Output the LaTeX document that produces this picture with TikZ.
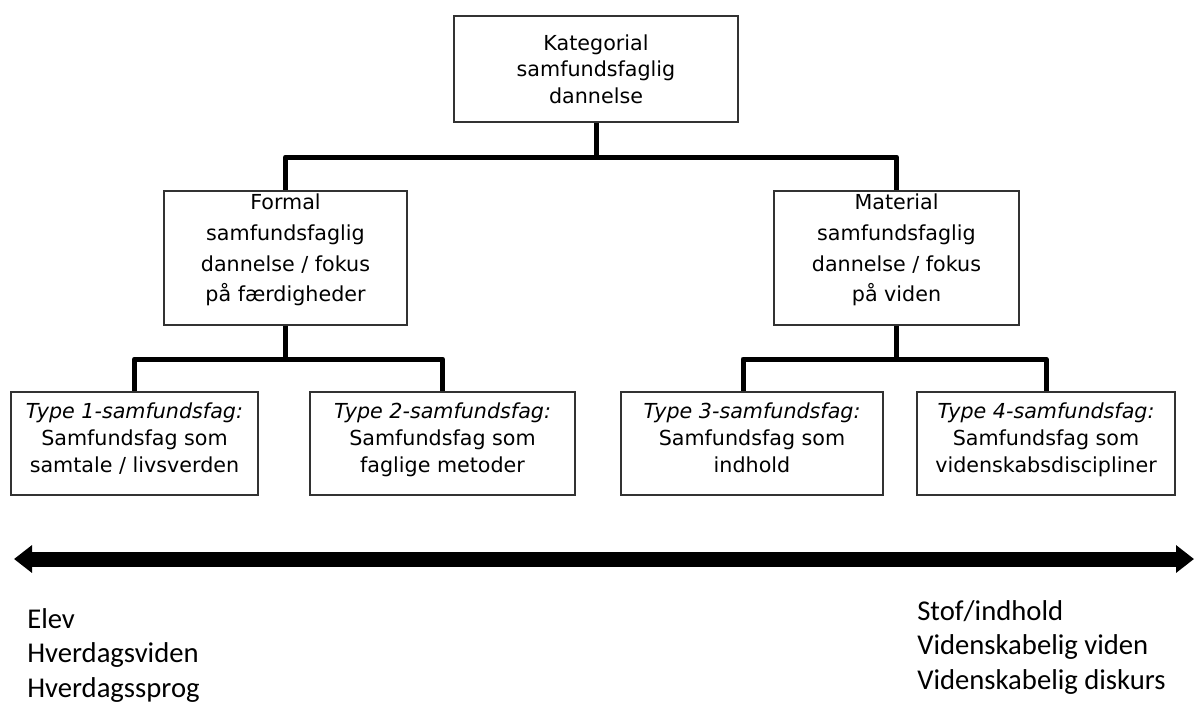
\documentclass[tikz,border=0pt]{standalone}
\usepackage{fontspec}
\setmainfont{DejaVu Sans}
\newfontfamily\notefont{Carlito}
\usetikzlibrary{arrows.meta,positioning}
\definecolor{frame}{RGB}{50,50,50}

\begin{document}
\begin{tikzpicture}[
  x=0.75pt, y=-0.75pt,
  box/.style={draw=frame, line width=1.2pt, align=center, inner sep=0pt, font=\fontsize{15.5}{20}\selectfont},
  midbox/.style={box, font=\fontsize{15.5}{23}\selectfont, minimum height=100.5pt, text depth=15pt},
  typebox/.style={box, minimum height=77.25pt, text depth=9pt},
  conn/.style={line width=3.75pt, line join=round},
  axis/.style={{Triangle[length=13.5pt,width=20pt]}-{Triangle[length=13.5pt,width=20pt]}, line width=11.25pt},
  note/.style={align=left, inner sep=0pt, anchor=north west, font=\notefont\fontsize{21.5}{26}\selectfont},
]
  \useasboundingbox (0,0) rectangle (1195,707);
  \node[box, minimum width=213pt, minimum height=79.5pt] (top) at (596,69) {Kategorial\\ samfundsfaglig\\ dannelse};
  \node[midbox, minimum width=182.25pt] (formal) at (285.5,258) {Formal\\ samfundsfaglig\\ dannelse / fokus\\ på færdigheder};
  \node[midbox, minimum width=183.75pt] (material) at (896.5,258) {Material\\ samfundsfaglig\\ dannelse / fokus\\ på viden};
  \node[typebox, minimum width=185.25pt] (t1) at (134.5,443.5) {\itshape Type 1-samfundsfag:\\ Samfundsfag som\\ samtale / livsverden};
  \node[typebox, minimum width=198.75pt] (t2) at (442.5,443.5) {\itshape Type 2-samfundsfag:\\ Samfundsfag som\\ faglige metoder};
  \node[typebox, minimum width=196.5pt] (t3) at (752,443.5) {\itshape Type 3-samfundsfag:\\ Samfundsfag som\\ indhold};
  \node[typebox, minimum width=193.5pt] (t4) at (1046,443.5) {\itshape Type 4-samfundsfag:\\ Samfundsfag som\\ videnskabsdiscipliner};
  \coordinate (lvl1) at (0,157);
  \coordinate (lvl2) at (0,359);
  \draw[conn] (top.south) -- (top.south |- lvl1);
  \draw[conn] (formal.north) |- (material.north |- lvl1) -- (material.north);
  \draw[conn] (formal.south) -- (formal.south |- lvl2);
  \draw[conn] (t1.north) |- (t2.north |- lvl2) -- (t2.north);
  \draw[conn] (material.south) -- (material.south |- lvl2);
  \draw[conn] ([xshift=-6.75pt]t3.north) |- (t4.north |- lvl2) -- (t4.north);
  \coordinate (elev) at (14,559);
  \coordinate (stof) at (1194,559);
  \draw[axis] (elev) -- (stof);
  \node[note] (left) at (27,608) {Elev\\ Hverdagsviden\\ Hverdagssprog};
  \node[note] (right) at (917,600) {Stof/indhold\\ Videnskabelig viden\\ Videnskabelig diskurs};
\end{tikzpicture}
\end{document}
